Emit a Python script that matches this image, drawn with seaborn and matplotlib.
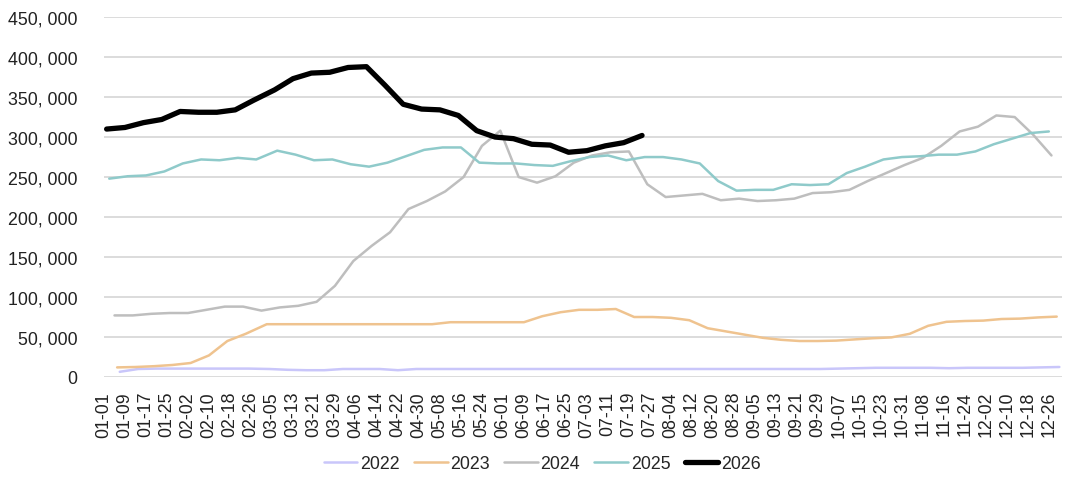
import pandas as pd
import seaborn as sns
import matplotlib.pyplot as plt

# weekly series (Friday dates), each year starts on its first Friday
years = ['2022', '2023', '2024', '2025', '2026']
first_dates = ['2022-01-07', '2023-01-06', '2024-01-05', '2025-01-03', '2026-01-02']

v2022 = [6500, 10000, 10500, 10500, 10500, 10500, 10500, 10500, 10000, 9000,
         8500, 8500, 10000, 10000, 10000, 8500, 10000, 10000, 10000, 10000,
         10000, 10000, 10000, 10000, 10000, 10000, 10000, 10000, 10000, 10000,
         10000, 10000, 10000, 10000, 10000, 10000, 10000, 10000, 10000, 10500,
         11000, 11500, 11500, 11500, 11500, 11000, 11500, 11500, 11500, 11500,
         12000, 12500]
v2023 = [12000, 12500, 13500, 15000, 17500, 27000, 45000, 54000, 66000, 66000,
         66000, 66000, 66000, 66000, 66000, 66000, 66000, 66000, 68500, 68500,
         68500, 68500, 68500, 76000, 81000, 84000, 84000, 85000, 75000, 75000,
         74000, 71000, 61000, 57000, 53000, 49000, 46500, 45000, 45000, 45500,
         47000, 48500, 49500, 54000, 64000, 69000, 70000, 70500, 72500, 73000,
         74500, 75500]
v2024 = [77000, 77000, 79000, 80000, 80000, 84000, 88000, 88000, 83000, 87000,
         89000, 94000, 114000, 145000, 164000, 181000, 210000, 220000, 232000, 250000,
         289000, 308000, 250000, 243000, 251000, 268000, 277000, 281000, 282000, 241000,
         225000, 227000, 229000, 221000, 223000, 220000, 221000, 223000, 230000, 231000,
         234000, 245000, 255000, 265000, 274000, 289000, 307000, 313000, 327000, 325000,
         303000, 277000]
v2025 = [248000, 251000, 252000, 257000, 267000, 272000, 271000, 274000, 272000, 283000,
         278000, 271000, 272000, 266000, 263000, 268000, 276000, 284000, 287000, 287000,
         268000, 267000, 267000, 265000, 264000, 270000, 275000, 277000, 271000, 275000,
         275000, 272000, 267000, 245000, 233000, 234000, 234000, 241000, 240000, 241000,
         255000, 263000, 272000, 275000, 276000, 278000, 278000, 282000, 291000, 298000,
         305000, 307000]
v2026 = [310000, 312000, 318000, 322000, 332000, 331000, 331000, 334000, 346000, 359000,
         373000, 380000, 381000, 387000, 388000, 365000, 341000, 335000, 334000, 327000,
         308000, 300000, 298000, 291000, 290000, 281000, 283000, 289000, 293000, 302000]
values = [v2022, v2023, v2024, v2025, v2026]

colors = ['#C9C6FA', '#EFC38F', '#BEBEBE', '#8FCACA', '#000000']
widths = [1.8, 1.8, 1.8, 1.8, 3.8]

# put every year on one (leap) calendar year, x = day offset from 01-01
frames = []
for yr, start, vals in zip(years, first_dates, values):
    d = pd.date_range(start, periods=len(vals), freq='7D')
    d = pd.to_datetime(d.strftime('2024-%m-%d'))
    frames.append(pd.DataFrame({'day': d.dayofyear - 1, 'value': vals, 'year': yr}))
df = pd.concat(frames, ignore_index=True)

sns.set_theme(style='white')
plt.rcParams['font.family'] = ['Liberation Sans', 'DejaVu Sans']

fig = plt.figure(figsize=(10.8, 4.89), dpi=100)
ax = fig.add_axes([0.0963, 0.227, 0.887, 0.736])

for yr, c, w in zip(years, colors, widths):
    sns.lineplot(data=df[df['year'] == yr], x='day', y='value', color=c,
                 linewidth=w, label=yr, ax=ax)

ticks = list(range(0, 361, 8))
tick_labels = [(pd.Timestamp('2024-01-01') + pd.Timedelta(days=t)).strftime('%m-%d') for t in ticks]
ax.set_xticks(ticks)
ax.set_xticklabels(tick_labels, rotation=90)
ax.set_xlim(0, 365)

yt = list(range(0, 450001, 50000))
ax.set_yticks(yt)
ax.set_yticklabels(['{:,}'.format(v).replace(',', ', ') for v in yt])
ax.set_ylim(0, 450000)

ax.yaxis.grid(True, color='#D9D9D9', linewidth=1.3)
ax.xaxis.grid(False)
ax.set_axisbelow(True)
for s in ax.spines.values():
    s.set_visible(False)
ax.tick_params(axis='y', length=0, pad=19, labelsize=12.8, labelcolor='#222222')
ax.tick_params(axis='x', length=0, pad=10, labelsize=12.8, labelcolor='#222222')
ax.set_xlabel('')
ax.set_ylabel('')

ax.legend(loc='center', bbox_to_anchor=(0.502, 1 - 465 / 489), bbox_transform=fig.transFigure,
          ncol=5, frameon=False, fontsize=12.8, handlelength=1.9, handletextpad=0.15,
          columnspacing=0.8)

fig.savefig('out.png', dpi=100)
